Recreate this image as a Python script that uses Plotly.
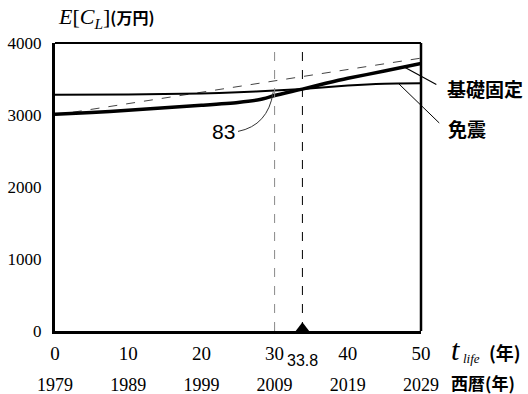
import plotly.graph_objects as go

# ---- data ----
t_fixed = [0, 5, 10, 15, 20, 25, 28, 30, 33.8, 37, 40, 45, 50]
fixed = [3010, 3035, 3065, 3100, 3135, 3175, 3215, 3270, 3360, 3440, 3510, 3610, 3715]
t_iso = [0, 10, 20, 25, 30, 33.8, 40, 45, 50]
isolation = [3280, 3285, 3300, 3315, 3340, 3360, 3410, 3435, 3440]
t_ref = [0, 50]
ref_line = [3000, 3790]
x_ticks = [0, 10, 20, 30, 40, 50]
x_labels = ["0", "10", "20", "30", "40", "50"]
year_labels = ["1979", "1989", "1999", "2009", "2019", "2029"]
y_ticks = [0, 1000, 2000, 3000, 4000]
y_labels = ["0", "1000", "2000", "3000", "4000"]
t_cross = 33.8
t_mark = 30
start_values = [3280, 3010]

SERIF = "Liberation Serif, Times New Roman, serif"
CJK = "Noto Sans CJK JP"
SANS = "Liberation Sans, Arial, sans-serif"

fig = go.Figure()

fig.add_trace(go.Scatter(x=t_ref, y=ref_line, mode="lines",
                         line=dict(color="#444", width=1, dash="dash"),
                         showlegend=False, hoverinfo="skip"))
fig.add_trace(go.Scatter(x=t_iso, y=isolation, mode="lines",
                         line=dict(color="black", width=2, shape="spline", smoothing=0.6),
                         showlegend=False, hoverinfo="skip"))
fig.add_trace(go.Scatter(x=t_fixed, y=fixed, mode="lines",
                         line=dict(color="black", width=3.5, shape="spline", smoothing=0.6),
                         showlegend=False, hoverinfo="skip"))
fig.add_trace(go.Scatter(x=[-0.95, -0.95], y=start_values, mode="markers",
                         marker=dict(symbol="triangle-right", size=13, color="black"),
                         cliponaxis=False, showlegend=False, hoverinfo="skip"))
fig.add_trace(go.Scatter(x=[t_cross], y=[30], mode="markers",
                         marker=dict(symbol="triangle-up", size=13, color="black"),
                         cliponaxis=False, showlegend=False, hoverinfo="skip"))
fig.add_trace(go.Scatter(x=[0, 50], y=[None, None], xaxis="x2", mode="lines",
                         showlegend=False, hoverinfo="skip"))

fig.update_layout(
    width=528, height=394,
    margin=dict(l=55, r=107, t=43, b=63),
    paper_bgcolor="white", plot_bgcolor="white",
    xaxis=dict(range=[0, 50], tickvals=x_ticks, ticktext=x_labels,
               showgrid=False, zeroline=False, showline=True, linewidth=3,
               linecolor="black", ticks="", ticklabelstandoff=3, automargin=False,
               tickfont=dict(family=SERIF, size=19, color="black")),
    xaxis2=dict(range=[0, 50], overlaying="x", anchor="free", position=0,
                side="bottom", tickvals=x_ticks, ticktext=year_labels,
                showgrid=False, zeroline=False, showline=False, ticks="",
                ticklabelstandoff=41, automargin=False,
                tickfont=dict(family=SERIF, size=18, color="black")),
    yaxis=dict(range=[0, 4000], tickvals=y_ticks, ticktext=y_labels,
               showgrid=False, zeroline=False, showline=True, linewidth=3,
               linecolor="black", ticks="", ticklabelstandoff=7, automargin=False,
               tickfont=dict(family=SERIF, size=17, color="black")),
    shapes=[
        dict(type="line", xref="paper", yref="paper", x0=0, x1=1, y0=1, y1=1,
             line=dict(color="black", width=2)),
        dict(type="line", xref="paper", yref="paper", x0=1, x1=1, y0=0, y1=1,
             line=dict(color="black", width=2.5)),
        dict(type="line", xref="x", yref="y", x0=t_mark, x1=t_mark, y0=0, y1=4000,
             line=dict(color="#888", width=1, dash="dash")),
        dict(type="line", xref="x", yref="y", x0=t_cross, x1=t_cross, y0=0, y1=4000,
             line=dict(color="black", width=1, dash="dash")),
        dict(type="path", xref="x", yref="y",
             path="M 25,2772 Q 29.1,2855 29.8,3315",
             line=dict(color="#333", width=1)),
    ],
    annotations=[
        dict(xref="x", yref="paper", x=0, y=1, xanchor="left", yanchor="middle",
             xshift=1, yshift=25, showarrow=False,
             text="<span style='font-family:Liberation Serif'><i>E</i>[<i>C</i><sub><i>L</i></sub>]</span><span style='font-family:Noto Sans CJK JP;font-size:16px'><b>(万円)</b></span>",
             font=dict(family=SERIF, size=22, color="black")),
        dict(xref="x", yref="y", x=24.8, y=2772, xanchor="right", yanchor="middle",
             showarrow=False, text="83",
             font=dict(family=SANS, size=21, color="black")),
        dict(xref="x", yref="paper", x=t_cross, y=0, xanchor="center", yanchor="middle",
             yshift=-29, showarrow=False, text="33.8",
             font=dict(family=SANS, size=16, color="black")),
        # leaders
        dict(xref="x", yref="y", x=47.7, y=3667, axref="x", ayref="y",
             ax=52.3, ay=3412, text="", showarrow=True, arrowhead=0,
             arrowwidth=1.2, arrowcolor="black"),
        dict(xref="x", yref="y", x=46.9, y=3440, axref="x", ayref="y",
             ax=52.7, ay=2869, text="", showarrow=True, arrowhead=0,
             arrowwidth=1, arrowcolor="black"),
        dict(xref="paper", yref="y", x=1, y=3370, xanchor="left", yanchor="middle",
             xshift=24, showarrow=False, text="<b>基礎固定</b>",
             font=dict(family=CJK, size=19, color="black")),
        dict(xref="paper", yref="y", x=1, y=2813, xanchor="left", yanchor="middle",
             xshift=25, showarrow=False, text="<b>免震</b>",
             font=dict(family=CJK, size=19, color="black")),
        dict(xref="paper", yref="paper", x=1, y=0, xanchor="left", yanchor="middle",
             xshift=28, yshift=-18, showarrow=False, text="<i>t</i>",
             font=dict(family=SERIF, size=30, color="black")),
        dict(xref="paper", yref="paper", x=1, y=0, xanchor="left", yanchor="middle",
             xshift=40, yshift=-27, showarrow=False, text="<i>life</i>",
             font=dict(family=SERIF, size=13, color="black")),
        dict(xref="paper", yref="paper", x=1, y=0, xanchor="left", yanchor="middle",
             xshift=66, yshift=-21, showarrow=False, text="<b>(年)</b>",
             font=dict(family=CJK, size=18, color="black")),
        dict(xref="paper", yref="paper", x=1, y=0, xanchor="left", yanchor="middle",
             xshift=29, yshift=-51, showarrow=False, borderpad=0,
             text="<b>西暦(年)</b>",
             font=dict(family=CJK, size=17, color="black")),
    ],
)

fig.write_html("out.html")
